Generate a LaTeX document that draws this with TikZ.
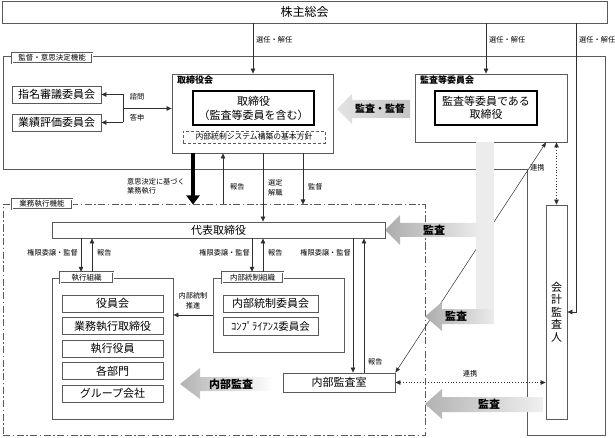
\documentclass[tikz,border=0pt]{standalone}
\usepackage{fontspec}
\setmainfont{Noto Sans CJK JP}
\usetikzlibrary{arrows.meta}
\definecolor{ln}{HTML}{303030}
\definecolor{bd}{HTML}{5a5a5a}
\begin{document}
\begin{tikzpicture}[x=1pt,y=-1pt,
  box/.style={draw=bd, line width=0.8pt, fill=white, inner sep=0pt, align=center, font=\fontsize{11}{14}\selectfont},
  strong/.style={draw=black, line width=1.2pt, fill=white, inner sep=0pt, align=center, font=\fontsize{11}{14}\selectfont},
  framebox/.style={draw=bd, line width=0.8pt, inner sep=0pt},
  tag/.style={draw=bd, double=white, double distance=0.7pt, line width=0.45pt, fill=white, inner sep=0pt, font=\fontsize{7.5}{9}\selectfont},
  small/.style={inner sep=0pt, font=\fontsize{7.2}{9.6}\selectfont, align=left},
  head/.style={inner sep=0pt, font=\fontsize{9}{11}\selectfont\bfseries},
  glabel/.style={inner sep=0pt, font=\fontsize{11}{13}\selectfont\bfseries},
  arr/.style={draw=ln, line width=0.7pt, -{Triangle[length=5pt,width=4.5pt]}},
  dotarr/.style={draw=ln, line width=0.8pt, dotted, {Triangle[length=5pt,width=4.5pt]}-{Triangle[length=5pt,width=4.5pt]}},
  thinarr/.style={draw=ln, line width=0.5pt, {Triangle[length=5pt,width=4pt]}-{Triangle[length=5pt,width=4pt]}},
  dashdot/.style={draw=bd, line width=1pt, dash pattern=on 7pt off 2.5pt on 1.5pt off 2.5pt}
]
\useasboundingbox (0,0) rectangle (615,438);

% ---------- frames ----------
\draw[draw=bd, line width=1pt] (3,57) -- (605,57) -- (605,435) -- (527,435) -- (527,170) -- (3,170) -- cycle;
\node[dashdot, minimum width=422, minimum height=230, inner sep=0pt] (gyomu) at (214,320) {};

% diagonal link (behind grey arrows)
\node[box, minimum width=112, minimum height=19] (shitsu) at (339,382.5) {内部監査室};
\node[box, minimum width=152, minimum height=68] (kansa) at (491,108) {};
\draw[thinarr] (shitsu.north east) -- (546,0 |- kansa.south);

% ---------- grey arrows ----------
\fill[gray!15] (476,142) rectangle (494,324);
\shade[left color=gray!65, right color=gray!15] (385,230) -- (400,215) -- (400,223) -- (480,223) -- (480,237) -- (400,237) -- (400,245) -- cycle;
\shade[left color=gray!65, right color=gray!15] (425,316.5) -- (442,302) -- (442,309) -- (494,309) -- (494,324) -- (442,324) -- (442,331) -- cycle;
\shade[left color=gray!60, right color=gray!12] (425,404) -- (442,389) -- (442,397) -- (543,397) -- (543,412) -- (442,412) -- (442,419) -- cycle;
\shade[left color=gray!60, right color=white] (180,384) -- (200,368) -- (200,377) -- (273,377) -- (273,391) -- (200,391) -- (200,399) -- cycle;
\shade[left color=gray!22, right color=gray!45] (337,109) -- (352,94) -- (352,100) -- (410,100) -- (410,118) -- (352,118) -- (352,124) -- cycle;
\node[glabel] (g1) at (434,230) {監査};
\node[glabel] (g2) at (456,316.5) {監査};
\node[glabel] (g3) at (489,404) {監査};
\node[glabel] (g4) at (231,384) {内部監査};
\node[inner sep=0pt, font=\fontsize{10}{12}\selectfont\bfseries] (g5) at (380,109) {監査・監督};

% ---------- boxes ----------
\node[box, minimum width=605, minimum height=22, font=\fontsize{12}{14}\selectfont] (kabu) at (304.5,12) {株主総会};
\node[tag, minimum width=80, minimum height=10] (tag1) at (52,58) {監督・意思決定機能};
\node[tag, minimum width=60, minimum height=10] (tag2) at (42,204) {業務執行機能};

\node[box, minimum width=89, minimum height=17] (shimei) at (56.5,94.5) {指名審議委員会};
\node[box, minimum width=89, minimum height=17] (gyoseki) at (56.5,122.5) {業績評価委員会};

\node[box, minimum width=161, minimum height=79] (tori) at (252.5,113.5) {};
\node[head, anchor=west] (torih) at (177,80) {取締役会};
\node[strong, minimum width=121, minimum height=34] (torin) at (253.5,108) {取締役\\（監査等委員を含む）};
\node[draw=bd, line width=0.6pt, densely dashed, inner sep=0pt, minimum width=142, minimum height=12, font=\fontsize{7.8}{9}\selectfont] (kihon) at (254,137) {内部統制システム構築の基本方針};

\node[head, anchor=west] (kansah) at (420,80) {監査等委員会};
\node[strong, minimum width=102, minimum height=34, font=\fontsize{11}{13.5}\selectfont] (kansain) at (486,108) {監査等委員である\\取締役};

\node[box, minimum width=333, minimum height=16] (daihyo) at (218.5,230) {代表取締役};

\node[framebox, minimum width=121, minimum height=141] (shikko) at (112.5,348.5) {};
\node[tag, minimum width=53, minimum height=11] (tag3) at (86.5,277.5) {執行組織};
\node[box, minimum width=101, minimum height=17] (e1) at (112.5,303.5) {役員会};
\node[box, minimum width=101, minimum height=17] (e2) at (112.5,326) {業務執行取締役};
\node[box, minimum width=101, minimum height=17] (e3) at (112.5,348.5) {執行役員};
\node[box, minimum width=101, minimum height=17] (e4) at (112.5,371) {各部門};
\node[box, minimum width=101, minimum height=17] (e5) at (112.5,393.5) {グループ会社};

\node[framebox, minimum width=131, minimum height=74] (tosei) at (278.5,315) {};
\node[tag, minimum width=61, minimum height=11] (tag4) at (252.5,277.5) {内部統制組織};
\node[box, minimum width=95, minimum height=17] (c1) at (270.5,303.5) {内部統制委員会};
\node[box, minimum width=95, minimum height=18, font=\fontsize{10.5}{12}\selectfont] (c2) at (270.5,326) {ｺﾝﾌﾟﾗｲｱﾝｽ委員会};

\node[box, minimum width=21, minimum height=214, font=\fontsize{11}{12.5}\selectfont] (kaikei) at (556.5,312) {会\\計\\監\\査\\人};

% ---------- connectors ----------
\draw[arr] (253,0 |- kabu.south) -- (253,0 |- tori.north);
\node[small, anchor=west] (l1) at (256,40) {選任・解任};
\draw[arr] (486,0 |- kabu.south) -- (486,0 |- kansa.north);
\node[small, anchor=west] (l2) at (489,40) {選任・解任};
\draw[arr] (576,0 |- kabu.south) |- (kaikei.east);
\node[small, anchor=west] (l3) at (579,40) {選任・解任};

\coordinate (br) at (123,108.5);
\draw[draw=ln, line width=0.7pt] (br |- shimei.east) -- (br |- gyoseki.east);
\draw[arr] (br |- shimei.east) -- (shimei.east);
\draw[arr] (br |- gyoseki.east) -- (gyoseki.east);
\draw[arr] (br) -- (tori.west |- br);
\node[small] (l4) at (137,97) {諮問};
\node[small] (l5) at (137,118) {答申};

\draw[draw=black, line width=4.5pt, -{Triangle[length=9pt,width=13pt]}] (193,0 |- tori.south) -- (193,0 |- gyomu.north);
\node[small, anchor=north west] (l6) at (127,178) {意思決定に基づく\\業務執行};
\draw[arr] (223,0 |- gyomu.north) -- (223,0 |- tori.south);
\node[small, anchor=west] (l7) at (230,187) {報告};
\draw[arr] (263,0 |- tori.south) -- (263,0 |- daihyo.north);
\node[small, anchor=west] (l8) at (268,188) {選定\\解職};
\draw[arr] (303,0 |- tori.south) -- (303,0 |- gyomu.north);
\node[small, anchor=west] (l9) at (308,187) {監督};

\draw[arr] (81,0 |- daihyo.south) -- (81,0 |- tag3.north);
\draw[arr] (92,0 |- tag3.north) -- (92,0 |- daihyo.south);
\node[small, anchor=east] (l10) at (78,253) {権限委譲・監督};
\node[small, anchor=west] (l11) at (97,253) {報告};

\draw[arr] (252,0 |- daihyo.south) -- (252,0 |- tag4.north);
\draw[arr] (263,0 |- tag4.north) -- (263,0 |- daihyo.south);
\node[small, anchor=east] (l12) at (250,253) {権限委譲・監督};
\node[small, anchor=west] (l13) at (268,253) {報告};

\draw[arr] (353,0 |- daihyo.south) -- (353,0 |- shitsu.north);
\draw[arr] (364,0 |- shitsu.north) -- (364,0 |- daihyo.south);
\node[small, anchor=east] (l14) at (351,253) {権限委譲・監督};
\node[small, anchor=west] (l15) at (368,362) {報告};

\draw[arr] (tosei.west |- 0,315) -- (shikko.east |- 0,315);
\node[small, align=center] (l16) at (193,301) {内部統制\\推進};

\draw[dotarr] (kaikei.north |- kansa.south) -- (kaikei.north);
\node[small, anchor=west] (l17) at (530,168) {連携};
\draw[dotarr] (shitsu.east) -- (kaikei.west |- shitsu.east);
\node[small] (l18) at (470,374) {連携};
\end{tikzpicture}
\end{document}
